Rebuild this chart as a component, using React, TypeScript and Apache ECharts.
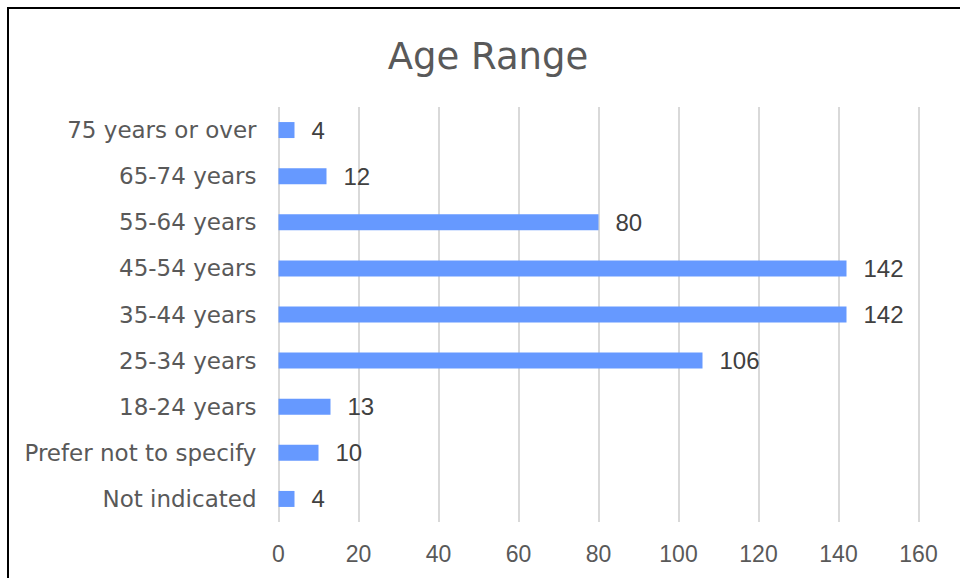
import React, { useEffect, useRef } from "react";
import * as echarts from "echarts";

const categories = [
  "75 years or over",
  "65-74 years",
  "55-64 years",
  "45-54 years",
  "35-44 years",
  "25-34 years",
  "18-24 years",
  "Prefer not to specify",
  "Not indicated",
];
const counts = [4, 12, 80, 142, 142, 106, 13, 10, 4];
const xTicks = { min: 0, max: 160, interval: 20 };
const title = "Age Range";

const FONT = "DejaVu Sans";
const NUM_FONT = "Liberation Sans";

export default function App() {
  const ref = useRef<HTMLDivElement>(null);
  useEffect(() => {
    if (!ref.current) return;
    const chart = echarts.init(ref.current, undefined, { renderer: "svg" });
    chart.setOption({
      animation: false,
      backgroundColor: "#ffffff",
      title: {
        text: title,
        left: 483,
        top: 33,
        textAlign: "center",
        textStyle: { fontFamily: FONT, fontSize: 37, fontWeight: "normal", color: "#595959" },
      },
      graphic: [
        {
          type: "rect",
          shape: { x: 8, y: 8, width: 1000, height: 700 },
          style: { fill: "none", stroke: "#000000", lineWidth: 2 },
          silent: true,
        },
      ],
      grid: { left: 278.5, right: 41.5, top: 107, bottom: 56, containLabel: false },
      xAxis: {
        type: "value",
        min: xTicks.min,
        max: xTicks.max,
        interval: xTicks.interval,
        axisLine: { show: false },
        axisTick: { show: false },
        splitLine: { show: true, lineStyle: { color: "#d9d9d9", width: 2 } },
        axisLabel: { fontFamily: NUM_FONT, fontSize: 23, color: "#595959", margin: 20 },
      },
      yAxis: {
        type: "category",
        data: categories,
        inverse: true,
        axisLine: { show: false },
        axisTick: { show: false },
        axisLabel: { fontFamily: FONT, fontSize: 23, color: "#595959", margin: 22 },
      },
      series: [
        {
          type: "bar",
          data: counts,
          barWidth: 16,
          itemStyle: { color: "#6699ff" },
          label: {
            show: true,
            position: "right",
            distance: 17,
            fontFamily: NUM_FONT,
            fontSize: 24,
            color: "#404040",
          },
        },
      ],
    });
    return () => chart.dispose();
  }, []);
  return (
    <div
      ref={ref}
      style={{ position: "absolute", left: 0, top: 0, width: 960, height: 578 }}
    />
  );
}
